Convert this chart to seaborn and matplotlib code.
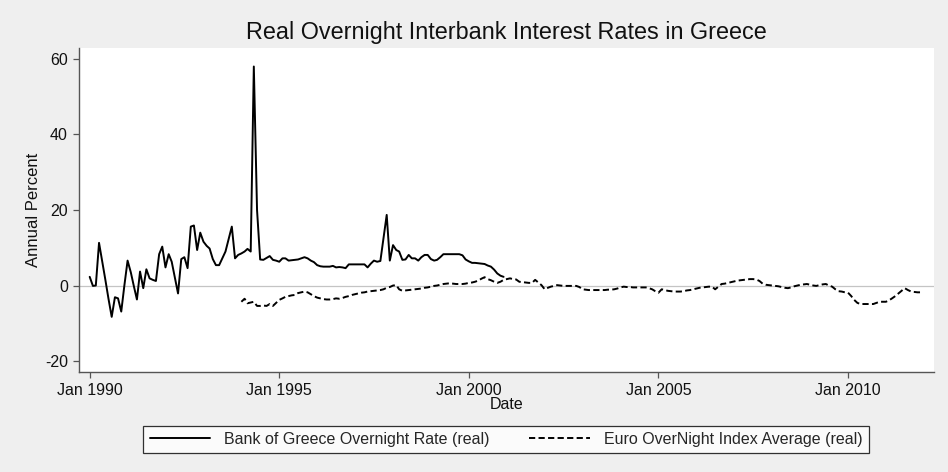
import numpy as np
import pandas as pd
import matplotlib
matplotlib.use("Agg")
import matplotlib.pyplot as plt
import matplotlib.dates as mdates
import seaborn as sns

# ---------------- data (monthly) ----------------
bog_start = "1990-01-01"   # Bank of Greece series start (monthly)
bog_values = [
    # 1990
    2.3, -0.1, 0.0, 11.3, 6.5, 1.5, -3.5, -8.3, -3.1, -3.4, -6.9, 0.0,
    # 1991
    6.6, 3.5, 0.0, -3.7, 3.7, -0.7, 4.3, 1.9, 1.5, 1.2, 8.3, 10.3,
    # 1992
    4.8, 8.3, 6.3, 2.0, -2.1, 7.0, 7.5, 4.6, 15.6, 15.9, 9.4, 14.0,
    # 1993
    11.6, 10.5, 9.8, 7.0, 5.4, 5.4, 7.2, 9.0, 12.3, 15.6, 7.2, 8.1,
    # 1994
    8.5, 9.0, 9.7, 9.0, 58.0, 20.0, 6.9, 6.8, 7.3, 7.8, 6.8, 6.6,
    # 1995
    6.3, 7.2, 7.2, 6.6, 6.7, 6.8, 6.9, 7.2, 7.5, 7.2, 6.6, 6.2,
    # 1996
    5.4, 5.1, 5.0, 5.0, 5.0, 5.2, 4.8, 4.9, 4.8, 4.6, 5.6, 5.6,
    # 1997
    5.6, 5.6, 5.6, 5.6, 4.8, 5.8, 6.6, 6.3, 6.5, 12.5, 18.7, 6.6,
    # 1998
    10.7, 9.4, 9.0, 6.8, 6.9, 8.1, 7.2, 7.2, 6.6, 7.5, 8.1, 8.1,
    # 1999
    7.0, 6.6, 6.8, 7.5, 8.3, 8.3, 8.3, 8.3, 8.3, 8.3, 8.0, 6.9,
    # 2000
    6.4, 6.0, 6.0, 5.9, 5.8, 5.7, 5.3, 5.0, 4.2, 3.2, 2.6, 2.3,
]

eonia_start = "1994-01-01"  # Euro OverNight Index Average series start (monthly)
eonia_values = [
    # 1994
    -4.3, -3.5, -4.7, -4.5, -4.3, -5.4, -5.4, -5.3, -5.4, -4.9, -5.4, -4.6,
    # 1995
    -3.8, -3.4, -3.0, -2.8, -2.6, -2.5, -2.0, -1.8, -1.6, -1.8, -2.3, -2.8,
    # 1996
    -3.2, -3.4, -3.6, -3.7, -3.7, -3.6, -3.4, -3.5, -3.3, -3.0, -2.8, -2.5,
    # 1997
    -2.3, -2.1, -1.9, -1.8, -1.6, -1.5, -1.4, -1.3, -1.2, -1.0, -0.6, -0.4,
    # 1998
    0.0, 0.1, -1.0, -1.4, -1.3, -1.2, -1.1, -1.0, -0.9, -0.8, -0.6, -0.5,
    # 1999
    -0.3, -0.1, 0.0, 0.2, 0.4, 0.5, 0.6, 0.5, 0.4, 0.4, 0.4, 0.5,
    # 2000
    0.7, 0.8, 1.0, 1.3, 1.8, 2.2, 1.7, 1.4, 1.0, 0.7, 1.0, 1.5,
    # 2001
    1.7, 1.9, 1.7, 1.6, 1.0, 0.9, 0.8, 0.7, 0.7, 1.5, 0.8, 0.1,
    # 2002
    -1.0, -0.6, -0.3, -0.1, 0.1, 0.0, -0.1, -0.1, -0.1, -0.1, -0.1, -0.4,
    # 2003
    -1.0, -1.1, -1.2, -1.2, -1.2, -1.2, -1.2, -1.2, -1.1, -1.1, -1.0, -0.8,
    # 2004
    -0.5, -0.3, -0.4, -0.4, -0.5, -0.5, -0.5, -0.5, -0.5, -0.7, -1.0, -1.5,
    # 2005
    -1.9, -1.0, -1.2, -1.4, -1.5, -1.6, -1.6, -1.6, -1.5, -1.3, -1.2, -1.0,
    # 2006
    -0.8, -0.6, -0.5, -0.4, -0.3, -0.3, -1.0, -0.3, 0.4, 0.5, 0.7, 0.9,
    # 2007
    1.1, 1.3, 1.4, 1.5, 1.6, 1.7, 1.7, 1.6, 1.2, 0.5, 0.2, 0.1,
    # 2008
    0.0, -0.1, -0.2, -0.4, -0.6, -0.7, -0.5, -0.2, 0.0, 0.2, 0.3, 0.4,
    # 2009
    0.2, 0.0, -0.1, 0.1, 0.3, 0.4, 0.0, -0.3, -1.0, -1.5, -1.6, -1.8,
    # 2010
    -1.9, -2.8, -3.8, -4.6, -4.9, -4.9, -4.9, -4.9, -4.9, -4.6, -4.3, -4.3,
    # 2011
    -4.3, -3.9, -3.4, -2.8, -2.1, -1.4, -0.7, -1.2, -1.6, -1.7, -1.8, -1.8,
]

title = "Real Overnight Interbank Interest Rates in Greece"
bog_label = "Bank of Greece Overnight Rate (real)"
eonia_label = "Euro OverNight Index Average (real)"
x_label = "Date"
y_label = "Annual Percent"
y_ticks = [-20, 0, 20, 40, 60]
x_tick_years = [1990, 1995, 2000, 2005, 2010]

bog = pd.DataFrame({
    "date": pd.date_range(bog_start, periods=len(bog_values), freq="MS"),
    "value": bog_values,
})
eonia = pd.DataFrame({
    "date": pd.date_range(eonia_start, periods=len(eonia_values), freq="MS"),
    "value": eonia_values,
})

# ---------------- style ----------------
sns.set_style("white")
plt.rcParams["font.family"] = ["Liberation Sans", "DejaVu Sans"]
plt.rcParams["axes.unicode_minus"] = False
bg = "#efefef"

fig = plt.figure(figsize=(9.48, 4.72), dpi=100, facecolor=bg)
ax = fig.add_axes([79 / 948, 1 - 372 / 472, (934 - 79) / 948, (372 - 48) / 472])
ax.set_facecolor("white")

ax.axhline(0, color="#c4c4c4", lw=0.9, zorder=1)

sns.lineplot(data=bog, x="date", y="value", ax=ax, color="black", lw=1.4,
             label=bog_label, zorder=3)
sns.lineplot(data=eonia, x="date", y="value", ax=ax, color="black", lw=1.4,
             linestyle=(0, (3.2, 1.7)), label=eonia_label, zorder=3)

ax.set_ylim(-22.9, 62.9)
ax.set_xlim(pd.Timestamp("1989-09-20"), pd.Timestamp("2012-04-08"))
ax.set_yticks(y_ticks)
ax.set_xticks([pd.Timestamp(f"{y}-01-01") for y in x_tick_years])
ax.xaxis.set_major_formatter(mdates.DateFormatter("Jan %Y"))

for s in ["top", "right"]:
    ax.spines[s].set_visible(False)
for s in ["left", "bottom"]:
    ax.spines[s].set_color("#555555")
    ax.spines[s].set_linewidth(1.0)

ax.tick_params(axis="both", which="major", direction="out", length=4.5,
               width=0.9, color="#555555", labelsize=11.5, labelcolor="#111111",
               pad=3.5, left=True, bottom=True)

ax.set_xlabel(x_label, fontsize=11.5, labelpad=-1, color="#111111")
ax.set_ylabel(y_label, fontsize=12, labelpad=3, color="#111111")

fig.text(506 / 948, 1 - 32 / 472, title, ha="center", va="center",
         fontsize=16.8, color="#111111")

handles, labels = ax.get_legend_handles_labels()
ax.get_legend().remove()
leg = fig.legend(handles, labels, loc="center",
                 bbox_to_anchor=(506 / 948, 1 - 439.5 / 472), ncol=2,
                 frameon=True, fancybox=False, edgecolor="black",
                 facecolor="white", fontsize=11.5, handlelength=3.8,
                 handletextpad=0.85, columnspacing=2.5, borderpad=0.4)
leg.get_frame().set_linewidth(0.9)

fig.savefig("out.png", dpi=100, facecolor=bg)
